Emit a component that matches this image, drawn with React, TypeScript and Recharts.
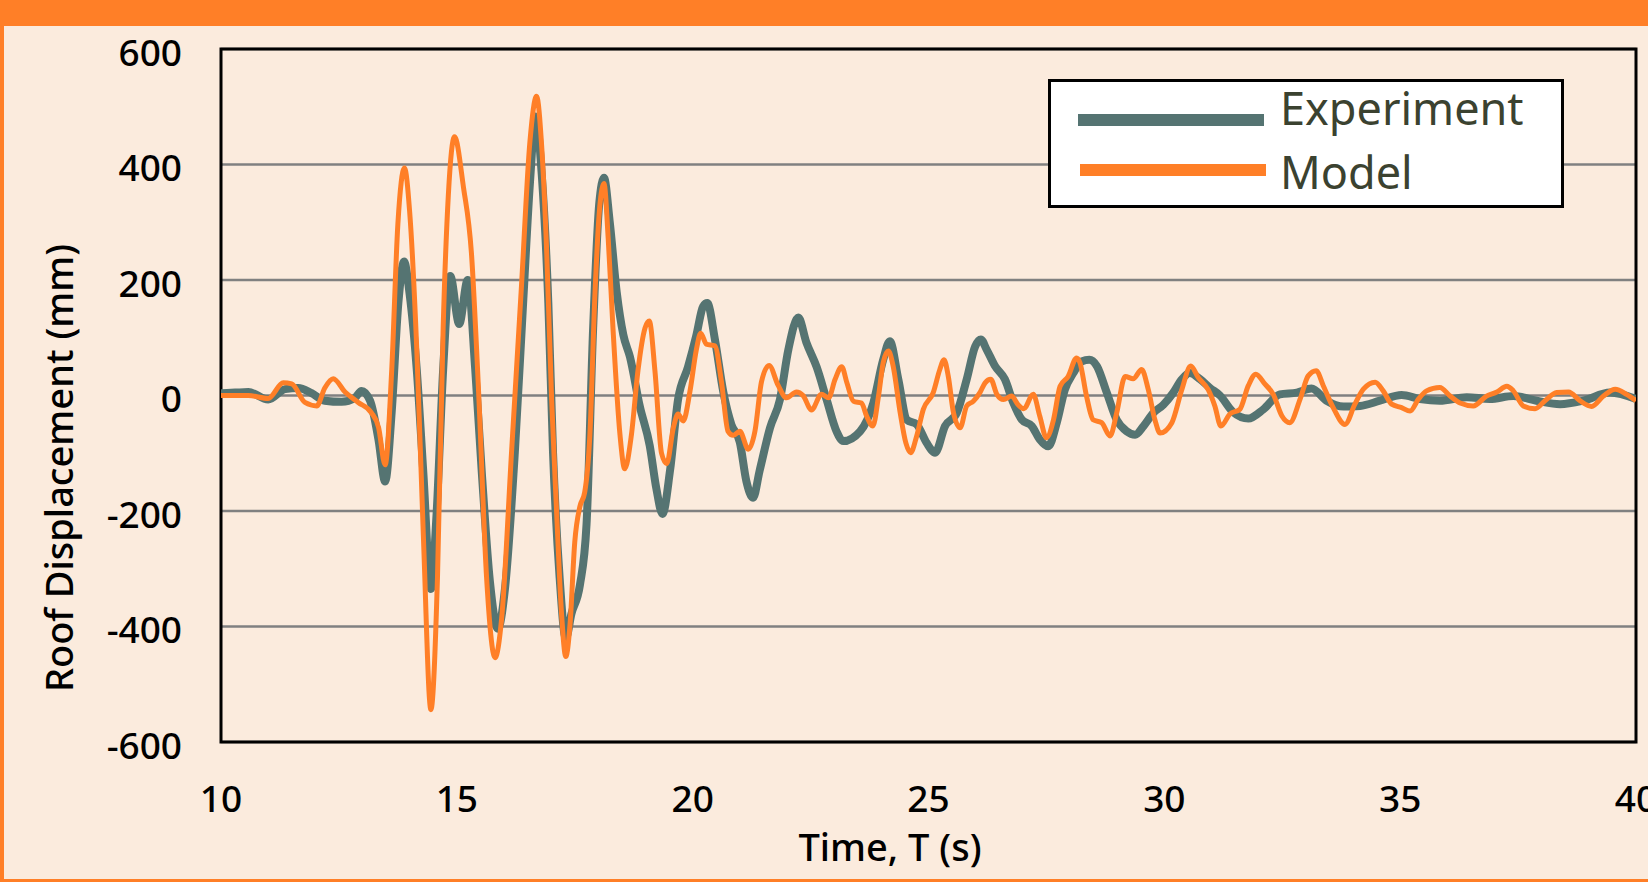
import React from "react"
import { LineChart, Line, XAxis, YAxis, CartesianGrid, ReferenceArea } from "recharts"

const ORANGE = "#FF7F27"
const TEAL = "#557472"
const BG = "#FBEBDD"
const FONT = "'Noto Sans', 'DejaVu Sans', sans-serif"

// time (s) and roof displacement (mm)
const expT = [
  10.0, 10.3, 10.58, 11.0, 11.36, 11.64, 11.92, 12.2, 12.56, 12.84, 12.98, 13.16, 13.34, 13.48, 13.62, 13.76, 13.88,
  14.0, 14.15, 14.29, 14.45, 14.57, 14.71, 14.86, 15.05, 15.23, 15.39, 15.53, 15.7, 15.87, 16.02, 16.23, 16.41, 16.55,
  16.67, 16.8, 16.94, 17.04, 17.18, 17.31, 17.43, 17.61, 17.75, 17.89, 18.02, 18.12, 18.24, 18.39, 18.53, 18.67, 18.88,
  19.09, 19.23, 19.36, 19.52, 19.69, 19.9, 20.08, 20.22, 20.31, 20.47, 20.65, 20.82, 21.0, 21.14, 21.28, 21.42, 21.64,
  21.85, 22.03, 22.24, 22.41, 22.63, 22.84, 23.05, 23.19, 23.55, 23.83, 24.04, 24.18, 24.36, 24.54, 24.75, 24.96, 25.14,
  25.35, 25.6, 25.81, 25.99, 26.11, 26.23, 26.41, 26.62, 26.8, 26.98, 27.19, 27.36, 27.54, 27.72, 27.89, 28.07, 28.25,
  28.41, 28.57, 28.78, 28.99, 29.2, 29.38, 29.56, 29.77, 29.98, 30.19, 30.37, 30.54, 30.76, 30.97, 31.18, 31.46, 31.78,
  32.1, 32.45, 32.81, 33.12, 33.44, 33.8, 34.15, 34.57, 35.03, 35.42, 35.84, 36.41, 36.9, 37.4, 37.89, 38.39, 38.88,
  39.45, 40.0,
]
const expV = [
  4, 5, 6, -7, 11, 13, 4, -9, -11, -4, 8, -9, -77, -149, -27, 160, 232,
  175, 45, -134, -335, -206, 45, 207, 124, 200, 45, -134, -321, -404, -335, -98, 167, 368,
  483, 383, 160, -100, -316, -421, -378, -328, -223, 117, 333, 377, 302, 179, 105, 67, -19,
  -87, -161, -205, -130, -7, 49, 105, 154, 160, 98, 6, -50, -81, -149, -177, -130, -56,
  -7, 80, 135, 92, 49, -7, -62, -79, -62, -13, 62, 94, 28, -42, -50, -82, -99,
  -53, -30, 28, 85, 97, 80, 51, 28, -13, -42, -53, -76, -88, -47, 10, 39, 59,
  62, 51, 5, -42, -62, -68, -53, -30, -16, 5, 28, 39, 28, 13, 0, -29, -40,
  -24, 2, 5, 12, -9, -19, -18, -9, 1, -6, -9, -3, -6, -1, -9, -15, -9,
  5, -6,
]

const modT = [
  10.0, 10.58, 11.0, 11.32, 11.5, 11.78, 12.03, 12.2, 12.38, 12.63, 12.91, 13.19, 13.34, 13.48, 13.62, 13.75, 13.89,
  14.0, 14.15, 14.29, 14.45, 14.59, 14.71, 14.82, 14.95, 15.14, 15.31, 15.46, 15.63, 15.81, 15.95, 16.16, 16.37, 16.55,
  16.69, 16.8, 16.9, 17.01, 17.11, 17.22, 17.31, 17.4, 17.5, 17.61, 17.71, 17.82, 17.93, 18.03, 18.12, 18.21, 18.31,
  18.46, 18.56, 18.7, 18.84, 18.99, 19.08, 19.2, 19.34, 19.45, 19.59, 19.69, 19.8, 19.94, 20.08, 20.17, 20.29, 20.47,
  20.61, 20.75, 20.86, 21.0, 21.18, 21.32, 21.46, 21.62, 21.81, 21.99, 22.2, 22.34, 22.52, 22.73, 22.88, 23.02, 23.16,
  23.27, 23.41, 23.58, 23.69, 23.82, 23.94, 24.04, 24.15, 24.25, 24.4, 24.52, 24.62, 24.75, 24.89, 25.1, 25.24, 25.33,
  25.42, 25.53, 25.67, 25.81, 25.95, 26.09, 26.2, 26.32, 26.45, 26.59, 26.76, 26.9, 27.02, 27.22, 27.36, 27.5, 27.65,
  27.79, 27.96, 28.14, 28.21, 28.35, 28.49, 28.67, 28.85, 28.99, 29.17, 29.34, 29.52, 29.66, 29.8, 29.91, 30.16, 30.37,
  30.56, 30.72, 30.93, 31.07, 31.2, 31.39, 31.6, 31.78, 31.94, 32.13, 32.31, 32.49, 32.66, 32.88, 33.05, 33.22, 33.37,
  33.58, 33.83, 34.04, 34.22, 34.47, 34.64, 34.82, 35.03, 35.21, 35.39, 35.56, 35.84, 36.06, 36.27, 36.55, 36.83, 37.05,
  37.26, 37.4, 37.61, 37.86, 38.07, 38.32, 38.57, 38.81, 39.06, 39.31, 39.56, 39.8, 40.0,
]
const modV = [
  0, 0, -5, 22, 20, -12, -18, 13, 29, 6, -12, -30, -55, -120, 45, 297, 394,
  318, 81, -242, -544, -314, 117, 347, 448, 361, 246, 9, -314, -454, -386, -98, 189, 440,
  518, 430, 260, -7, -192, -378, -452, -396, -254, -192, -168, -69, 179, 327, 367, 271, 117,
  -69, -127, -69, 43, 117, 129, 43, -100, -118, -56, -32, -44, 6, 80, 108, 89, 86,
  24, -62, -69, -62, -93, -62, 24, 52, 18, -4, 6, 0, -25, 2, -4, 28, 50,
  22, -10, -13, -36, -53, -1, 57, 77, 51, -30, -82, -99, -70, -24, 5, 45, 62,
  33, -30, -56, -18, -10, 5, 22, 28, 2, -7, -1, -16, -23, 2, -36, -73, -42,
  16, 33, 65, 57, -1, -42, -47, -70, -30, 33, 29, 45, 10, -42, -65, -47, 10,
  51, 31, 10, -18, -53, -32, -24, 17, 37, 20, 2, -35, -47, -6, 34, 43, 17,
  -21, -50, -15, 11, 23, 8, -15, -21, -27, -6, 8, 14, -1, -13, -18, -1, 6,
  16, 8, -18, -23, -9, 5, 6, -9, -19, -1, 11, 2, -9,
]

const xTicks = [10, 15, 20, 25, 30, 35, 40]
const yTicks = [-600, -400, -200, 0, 200, 400, 600]
const seriesNames = ["Experiment", "Model"]

const expData = expT.map((t, i) => ({ t, v: expV[i] }))
const modData = modT.map((t, i) => ({ t, v: modV[i] }))

function XTick(props: any) {
  const { x, y, payload } = props
  return (
    <text x={x} y={y + 53} textAnchor="middle" dominantBaseline="central" fontSize={37} fontFamily={FONT} fontWeight={500} fill="#000">
      {payload.value}
    </text>
  )
}

function YTick(props: any) {
  const { x, y, payload } = props
  return (
    <text x={x - 37} y={y + 2} textAnchor="end" dominantBaseline="central" fontSize={37} fontFamily={FONT} fontWeight={500} fill="#000">
      {payload.value}
    </text>
  )
}

function LegendBox() {
  // baseline sits ~41px below the top of a 48px line box at 45px
  const rows = [
    { name: seriesNames[0], color: TEAL, textTop: 2, lineTop: 32, lineLeft: 27 },
    { name: seriesNames[1], color: ORANGE, textTop: 66, lineTop: 82, lineLeft: 29 },
  ]
  return (
    <div
      style={{
        position: "absolute",
        left: 1048,
        top: 79,
        width: 516,
        height: 129,
        boxSizing: "border-box",
        background: "#fff",
        border: "3px solid #000",
      }}
    >
      {rows.map((r) => (
        <React.Fragment key={r.name}>
          <div style={{ position: "absolute", left: r.lineLeft, top: r.lineTop, width: 186, height: 12, background: r.color }} />
          <div
            style={{
              position: "absolute",
              left: 229,
              top: r.textTop,
              height: 48,
              lineHeight: "48px",
              whiteSpace: "nowrap",
              fontFamily: FONT,
              fontSize: 45,
              color: "#3B4230",
            }}
          >
            {r.name}
          </div>
        </React.Fragment>
      ))}
    </div>
  )
}

export default function App() {
  return (
    <div style={{ position: "fixed", left: 0, top: 0, width: 1648, height: 882, background: BG, overflow: "hidden" }}>
      <div style={{ position: "absolute", left: 0, top: 0, width: 1648, height: 26, background: ORANGE }} />
      <div style={{ position: "absolute", left: 0, top: 0, width: 4, height: 882, background: ORANGE }} />
      <div style={{ position: "absolute", left: 0, top: 879, width: 1648, height: 3, background: ORANGE }} />
      <LineChart width={1648} height={882} margin={{ top: 49, right: 12, left: 0, bottom: 0 }} style={{ position: "absolute", left: 0, top: 0 }}>
        <CartesianGrid horizontal vertical={false} stroke="#808080" strokeWidth={2.5} />
        <XAxis
          dataKey="t"
          type="number"
          domain={[10, 40]}
          ticks={xTicks}
          allowDataOverflow
          height={140}
          tickSize={0}
          tickLine={false}
          axisLine={false}
          tick={<XTick />}
          interval={0}
        />
        <YAxis
          dataKey="v"
          type="number"
          domain={[-600, 600]}
          ticks={yTicks}
          allowDataOverflow
          width={221}
          tickSize={0}
          tickLine={false}
          axisLine={false}
          tick={<YTick />}
          interval={0}
        />
        <ReferenceArea x1={10} x2={40} y1={-600} y2={600} fill="none" stroke="#000" strokeWidth={3} ifOverflow="visible" />
        <Line data={expData} dataKey="v" type="monotone" stroke={TEAL} strokeWidth={8} dot={false} isAnimationActive={false} name={seriesNames[0]} />
        <Line data={modData} dataKey="v" type="monotone" stroke={ORANGE} strokeWidth={5} dot={false} isAnimationActive={false} name={seriesNames[1]} />
      </LineChart>
      <LegendBox />
      <div style={{ position: "absolute", left: 58, top: 468, transform: "translate(-50%, -50%) rotate(-90deg)", whiteSpace: "nowrap", fontFamily: FONT, fontSize: 38, fontWeight: 500, color: "#000" }}>
        Roof Displacement (mm)
      </div>
      <div style={{ position: "absolute", left: 890, top: 846, transform: "translate(-50%, -50%)", whiteSpace: "nowrap", fontFamily: FONT, fontSize: 38, fontWeight: 500, color: "#000" }}>
        Time, T (s)
      </div>
    </div>
  )
}
